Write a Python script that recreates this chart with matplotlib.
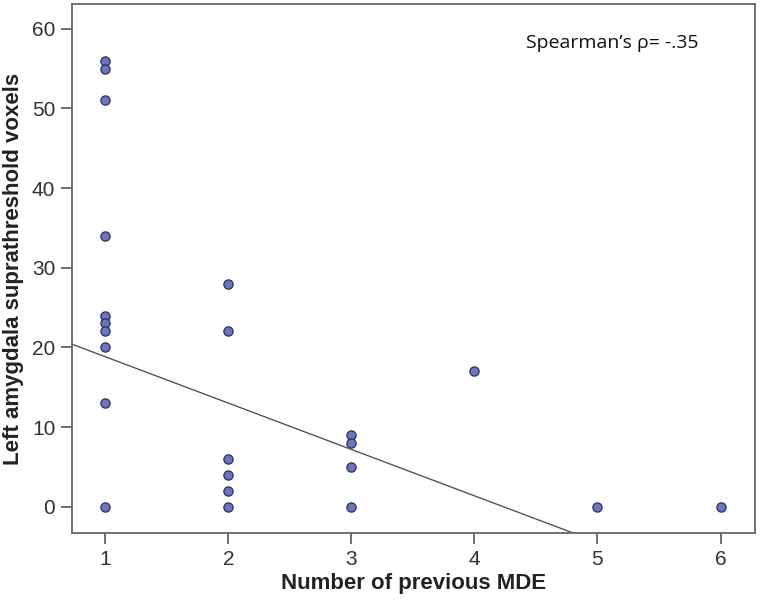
import numpy as np
import matplotlib.pyplot as plt

# number of previous MDE vs left amygdala suprathreshold voxels
mde = [1, 1, 1, 1, 1, 1, 1, 1, 1, 1,
       2, 2, 2, 2, 2, 2,
       3, 3, 3, 3,
       4, 5, 6]
voxels = [56, 55, 51, 34, 24, 23, 22, 20, 13, 0,
          28, 22, 6, 4, 2, 0,
          9, 8, 5, 0,
          17, 0, 0]

# fit line
fit_intercept = 24.65
fit_slope = -5.82

x_ticks = [1, 2, 3, 4, 5, 6]
y_ticks = [0, 10, 20, 30, 40, 50, 60]

font = 'Liberation Sans'

fig = plt.figure(figsize=(7.6, 6.09), dpi=100)
ax = fig.add_axes([0.0947, 0.1248, 0.8987, 0.8686])

ax.set_xlim(0.73, 6.28)
ax.set_ylim(-3.3, 63.1)

xs = np.array(ax.get_xlim())
ax.plot(xs, fit_intercept + fit_slope * xs, color='#555555', linewidth=1.0, zorder=2)

ax.scatter(mde, voxels, s=44, facecolor='#6b74bd', edgecolor='#2a2f5a',
           linewidth=0.9, zorder=3)

ax.set_xticks(x_ticks)
ax.set_yticks(y_ticks)
ax.tick_params(direction='out', length=8, width=1.2, color='#555555',
               labelsize=15, labelcolor='#333333', pad=4)
for lab in ax.get_xticklabels() + ax.get_yticklabels():
    lab.set_family(font)

for s in ax.spines.values():
    s.set_color('#666666')
    s.set_linewidth(1.3)

ax.set_xlabel('Number of previous MDE', fontsize=16, fontweight='bold',
              family=font, color='#222222', labelpad=3)
ax.set_ylabel('Left amygdala suprathreshold voxels', fontsize=16, fontweight='bold',
              family=font, color='#222222', labelpad=6)

ax.text(0.918, 0.926, 'Spearman\u2019s \u03c1= -.35', transform=ax.transAxes,
        ha='right', va='center', fontsize=14, family='Open Sans', color='#111111')

fig.savefig('out.png', dpi=100)
